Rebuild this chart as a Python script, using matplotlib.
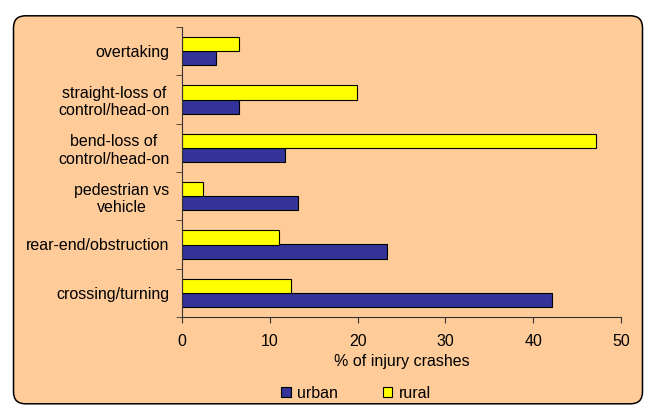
import numpy as np
import matplotlib
matplotlib.use("Agg")
import matplotlib.pyplot as plt
from matplotlib.patches import FancyBboxPatch

plt.rcParams['font.family'] = ['Liberation Sans', 'DejaVu Sans']

# data, bottom to top
categories = ["crossing/turning", "rear-end/obstruction", "pedestrian vs\nvehicle",
              "bend-loss of\ncontrol/head-on", "straight-loss of\ncontrol/head-on", "overtaking"]
urban = [42.1, 23.3, 13.2, 11.7, 6.5, 3.9]
rural = [12.4, 11.0, 2.4, 47.1, 19.9, 6.5]

fs = 11.5

fig = plt.figure(figsize=(6.49, 4.05), dpi=100)

# peach rounded background box (in inches)
bg = FancyBboxPatch((0.135, 0.012), 6.29, 3.88,
                    boxstyle="round,pad=0,rounding_size=0.12",
                    transform=fig.dpi_scale_trans, facecolor="#FFCC99",
                    edgecolor="black", linewidth=1.1, zorder=-10)
fig.add_artist(bg)

ax = fig.add_axes([182 / 649, 1 - 317 / 405, (621 - 182) / 649, (317 - 27) / 405])
ax.set_facecolor("none")

y = np.arange(len(categories))
h = 0.29
ax.barh(y - h / 2, urban, height=h, color="#333399", edgecolor="black", linewidth=0.8, label="urban")
ax.barh(y + h / 2, rural, height=h, color="#FFFF00", edgecolor="black", linewidth=0.8, label="rural")

ax.set_xlim(0, 50)
ax.set_ylim(-0.5, len(categories) - 0.5)
ax.set_xticks(np.arange(0, 51, 10))
ax.set_yticks(y)
ax.set_yticklabels(categories, fontsize=fs, ha="right")
ax.set_yticks(np.arange(-0.5, len(categories), 1), minor=True)
ax.tick_params(axis="y", which="major", length=0, pad=9)
ax.tick_params(axis="y", which="minor", length=4, direction="out", color="#333333")
ax.tick_params(axis="x", length=4, direction="out", color="#333333", labelsize=fs, pad=8)
for lbl in ax.get_yticklabels():
    lbl.set_multialignment("center")

for s in ["top", "right"]:
    ax.spines[s].set_visible(False)
for s in ["left", "bottom"]:
    ax.spines[s].set_color("#333333")

ax.set_xlabel("% of injury crashes", fontsize=fs, labelpad=4)

handles, labels = ax.get_legend_handles_labels()
fig.legend(handles, labels, loc="center", bbox_to_anchor=(356 / 649, 1 - 393 / 405),
           ncol=2, frameon=False, fontsize=fs, handlelength=0.6, handleheight=0.6,
           columnspacing=2.8, handletextpad=0.4, borderpad=0)

fig.savefig("out.png", dpi=100)
